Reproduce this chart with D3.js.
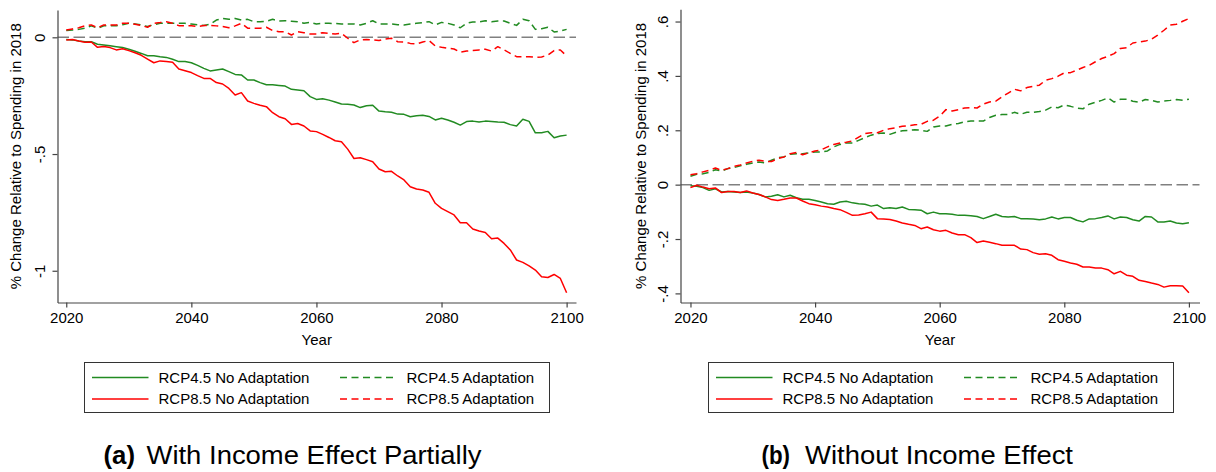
<!DOCTYPE html>
<html>
<head>
<meta charset="utf-8">
<script src="https://cdn.jsdelivr.net/npm/d3@7"></script>
<style>
  html, body { margin: 0; padding: 0; background: #fff; }
  svg { display: block; font-family: "Liberation Sans", Arial, Helvetica, sans-serif; }
</style>
</head>
<body>
<svg id="chart" width="1216" height="472"></svg>
<script>
// ---------- DATA ----------
const years = d3.range(2020, 2101);

const xTicks = [2020, 2040, 2060, 2080, 2100];
const yTicksA = [0, -0.5, -1];
const yTickLabelsA = ["0", "-.5", "-1"];
const yTicksB = [-0.4, -0.2, 0, 0.2, 0.4, 0.6];
const yTickLabelsB = ["-.4", "-.2", "0", ".2", ".4", ".6"];

const seriesNames = ["RCP4.5 No Adaptation", "RCP4.5 Adaptation", "RCP8.5 No Adaptation", "RCP8.5 Adaptation"];
const seriesColors = ["#228b22", "#228b22", "#ff0000", "#ff0000"];
const seriesDashed = [false, true, false, true];

// Panel (a): With Income Effect Partially
const a_rcp45_noadapt = [
  -0.009,-0.011,-0.016,-0.019,-0.019,-0.030,-0.033,-0.036,-0.040,-0.044,
  -0.051,-0.060,-0.069,-0.079,-0.079,-0.083,-0.086,-0.094,-0.104,-0.104,
  -0.109,-0.120,-0.133,-0.144,-0.140,-0.136,-0.147,-0.159,-0.161,-0.183,
  -0.183,-0.194,-0.203,-0.203,-0.206,-0.209,-0.223,-0.226,-0.229,-0.254,
  -0.266,-0.263,-0.269,-0.277,-0.286,-0.287,-0.290,-0.301,-0.293,-0.291,
  -0.316,-0.319,-0.321,-0.329,-0.330,-0.340,-0.336,-0.334,-0.339,-0.354,
  -0.347,-0.354,-0.364,-0.376,-0.361,-0.359,-0.363,-0.359,-0.361,-0.363,
  -0.364,-0.374,-0.380,-0.351,-0.360,-0.409,-0.409,-0.403,-0.430,-0.423,
  -0.419];
const a_rcp45_adapt = [
  0.029,0.031,0.034,0.039,0.049,0.039,0.049,0.049,0.049,0.054,
  0.060,0.057,0.053,0.046,0.054,0.060,0.060,0.060,0.060,0.060,
  0.057,0.054,0.051,0.056,0.074,0.081,0.077,0.081,0.074,0.077,
  0.067,0.067,0.069,0.077,0.070,0.071,0.069,0.067,0.060,0.064,
  0.057,0.060,0.060,0.059,0.057,0.057,0.057,0.053,0.060,0.071,
  0.057,0.057,0.057,0.054,0.053,0.057,0.060,0.063,0.067,0.053,
  0.064,0.060,0.053,0.041,0.060,0.066,0.066,0.071,0.067,0.070,
  0.070,0.060,0.051,0.077,0.071,0.034,0.037,0.043,0.023,0.027,
  0.034];
const a_rcp85_noadapt = [
  -0.011,-0.009,-0.016,-0.021,-0.020,-0.043,-0.039,-0.044,-0.054,-0.049,
  -0.057,-0.066,-0.077,-0.093,-0.109,-0.101,-0.104,-0.107,-0.136,-0.143,
  -0.151,-0.164,-0.176,-0.176,-0.194,-0.200,-0.219,-0.247,-0.237,-0.273,
  -0.283,-0.291,-0.297,-0.323,-0.340,-0.349,-0.373,-0.369,-0.380,-0.401,
  -0.404,-0.416,-0.429,-0.443,-0.447,-0.479,-0.519,-0.516,-0.524,-0.533,
  -0.564,-0.576,-0.574,-0.594,-0.611,-0.640,-0.650,-0.654,-0.664,-0.711,
  -0.733,-0.747,-0.761,-0.794,-0.794,-0.821,-0.830,-0.836,-0.863,-0.860,
  -0.883,-0.911,-0.954,-0.964,-0.979,-0.997,-1.026,-1.029,-1.016,-1.033,
  -1.094];
const a_rcp85_adapt = [
  0.031,0.036,0.041,0.049,0.053,0.041,0.053,0.053,0.053,0.060,
  0.060,0.056,0.051,0.043,0.060,0.063,0.067,0.060,0.050,0.050,
  0.050,0.046,0.051,0.051,0.049,0.046,0.041,0.049,0.060,0.039,
  0.039,0.039,0.043,0.029,0.024,0.024,0.010,0.024,0.020,0.014,
  0.014,0.020,0.017,0.014,0.017,-0.004,-0.023,-0.011,-0.009,-0.011,
  -0.014,-0.007,-0.004,-0.019,-0.020,-0.026,-0.029,-0.020,-0.014,-0.037,
  -0.043,-0.047,-0.050,-0.064,-0.059,-0.057,-0.054,-0.051,-0.059,-0.040,
  -0.054,-0.069,-0.083,-0.083,-0.083,-0.086,-0.084,-0.076,-0.057,-0.054,
  -0.080];

// Panel (b): Without Income Effect
const b_rcp45_noadapt = [
  -0.004,-0.006,-0.011,-0.021,-0.015,-0.027,-0.025,-0.027,-0.029,-0.027,
  -0.031,-0.036,-0.045,-0.043,-0.037,-0.045,-0.039,-0.048,-0.054,-0.054,
  -0.058,-0.064,-0.070,-0.072,-0.064,-0.061,-0.067,-0.070,-0.072,-0.079,
  -0.075,-0.088,-0.085,-0.088,-0.082,-0.091,-0.092,-0.094,-0.107,-0.101,
  -0.107,-0.107,-0.109,-0.113,-0.113,-0.114,-0.117,-0.125,-0.117,-0.109,
  -0.117,-0.119,-0.117,-0.125,-0.125,-0.126,-0.129,-0.126,-0.119,-0.126,
  -0.121,-0.121,-0.131,-0.137,-0.126,-0.125,-0.121,-0.115,-0.126,-0.119,
  -0.121,-0.129,-0.134,-0.117,-0.119,-0.137,-0.137,-0.134,-0.141,-0.144,
  -0.140];
const b_rcp45_adapt = [
  0.031,0.038,0.040,0.045,0.055,0.050,0.059,0.063,0.069,0.075,
  0.080,0.083,0.080,0.090,0.099,0.102,0.112,0.114,0.114,0.117,
  0.120,0.120,0.124,0.139,0.148,0.153,0.153,0.163,0.173,0.182,
  0.188,0.190,0.185,0.193,0.198,0.200,0.202,0.200,0.196,0.212,
  0.216,0.216,0.222,0.225,0.231,0.234,0.234,0.234,0.247,0.255,
  0.258,0.258,0.266,0.259,0.266,0.266,0.269,0.274,0.286,0.283,
  0.293,0.288,0.282,0.279,0.296,0.303,0.310,0.319,0.304,0.314,
  0.314,0.307,0.303,0.313,0.310,0.304,0.308,0.310,0.313,0.310,
  0.314];
const b_rcp85_noadapt = [
  -0.011,-0.002,-0.009,-0.015,-0.012,-0.029,-0.025,-0.025,-0.029,-0.023,
  -0.031,-0.036,-0.045,-0.055,-0.058,-0.054,-0.049,-0.049,-0.060,-0.070,
  -0.074,-0.079,-0.082,-0.088,-0.092,-0.102,-0.113,-0.112,-0.107,-0.101,
  -0.125,-0.126,-0.128,-0.134,-0.141,-0.146,-0.150,-0.162,-0.156,-0.166,
  -0.171,-0.168,-0.178,-0.184,-0.184,-0.195,-0.213,-0.207,-0.212,-0.217,
  -0.223,-0.223,-0.223,-0.237,-0.239,-0.250,-0.256,-0.254,-0.260,-0.276,
  -0.282,-0.288,-0.293,-0.303,-0.303,-0.307,-0.307,-0.313,-0.328,-0.319,
  -0.333,-0.337,-0.352,-0.356,-0.362,-0.367,-0.377,-0.372,-0.372,-0.373,
  -0.398];
const b_rcp85_adapt = [
  0.036,0.040,0.047,0.053,0.061,0.053,0.059,0.067,0.072,0.080,
  0.086,0.090,0.086,0.085,0.096,0.102,0.114,0.118,0.110,0.117,
  0.124,0.128,0.139,0.148,0.153,0.156,0.161,0.175,0.188,0.191,
  0.191,0.200,0.206,0.209,0.215,0.217,0.220,0.222,0.233,0.237,
  0.252,0.276,0.271,0.276,0.282,0.283,0.282,0.296,0.304,0.307,
  0.323,0.337,0.351,0.345,0.357,0.362,0.366,0.384,0.390,0.399,
  0.411,0.412,0.421,0.431,0.439,0.452,0.464,0.472,0.482,0.501,
  0.504,0.521,0.525,0.528,0.535,0.550,0.568,0.587,0.590,0.601,
  0.611];

const yAxisTitle = "% Change Relative to Spending in 2018";
const xAxisTitle = "Year";

// ---------- DRAW ----------
const svg = d3.select("#chart");
const FONT = 15;
const AXIS_COLOR = "#444";
const LINE_W = 1.5;
const DASH = "7,4.5";

const panels = [
  {
    xDomain: [2018.6, 2101.5], xRange: [57.5, 576],
    yDomain: [-1.136, 0.117], yRange: [302.5, 10],
    yTicks: yTicksA, yLabels: yTickLabelsA,
    series: [a_rcp45_noadapt, a_rcp45_adapt, a_rcp85_noadapt, a_rcp85_adapt],
    titleX: 20.5,
    legendX: 84.5,
    capBold: "(a)", capRest: "With Income Effect Partially",
    capX: 103.5, capBoldLen: 31.5, capRestX: 146.5, capRestLen: 335
  },
  {
    xDomain: [2018.4, 2101.7], xRange: [680.5, 1199.5],
    yDomain: [-0.4335, 0.645], yRange: [302.5, 9.3],
    yTicks: yTicksB, yLabels: yTickLabelsB,
    series: [b_rcp45_noadapt, b_rcp45_adapt, b_rcp85_noadapt, b_rcp85_adapt],
    titleX: 645.5,
    legendX: 708.5,
    capBold: "(b)", capRest: "Without Income Effect",
    capX: 761.5, capBoldLen: 28.5, capRestX: 805, capRestLen: 268
  }
];

panels.forEach(p => {
  const x = d3.scaleLinear().domain(p.xDomain).range(p.xRange);
  const y = d3.scaleLinear().domain(p.yDomain).range(p.yRange);
  const g = svg.append("g");

  // zero reference line
  g.append("line")
    .attr("x1", p.xRange[0]).attr("x2", p.xRange[1])
    .attr("y1", y(0)).attr("y2", y(0))
    .attr("stroke", "#808080").attr("stroke-width", 1.5)
    .attr("stroke-dasharray", "11.5,4.5");

  // series
  const line = d3.line().x((d, i) => x(years[i])).y(d => y(d));
  p.series.forEach((s, k) => {
    g.append("path")
      .datum(s)
      .attr("d", line)
      .attr("fill", "none")
      .attr("stroke", seriesColors[k])
      .attr("stroke-width", LINE_W)
      .attr("stroke-linejoin", "round")
      .attr("stroke-dasharray", seriesDashed[k] ? DASH : null);
  });

  // x axis
  const xAxis = g.append("g")
    .attr("transform", `translate(0,${p.yRange[0]})`)
    .call(d3.axisBottom(x).tickValues(xTicks).tickFormat(d3.format("d"))
      .tickSize(5).tickSizeOuter(0).tickPadding(4.5));
  // y axis
  const yAxis = g.append("g")
    .attr("transform", `translate(${p.xRange[0]},0)`)
    .call(d3.axisLeft(y).tickValues(p.yTicks).tickFormat((d, i) => p.yLabels[i])
      .tickSize(5).tickSizeOuter(0));
  [xAxis, yAxis].forEach(ax => {
    ax.select(".domain").attr("stroke", AXIS_COLOR).attr("stroke-width", 1.2);
    ax.selectAll(".tick line").attr("stroke", AXIS_COLOR).attr("stroke-width", 1.2);
    ax.selectAll("text").attr("fill", "#000").attr("font-size", FONT)
      .attr("font-family", '"Liberation Sans", Arial, Helvetica, sans-serif');
  });
  yAxis.selectAll(".tick text")
    .attr("transform", "rotate(-90)")
    .attr("x", 0).attr("y", -12.5).attr("dy", 0)
    .attr("text-anchor", "middle");

  // axis titles
  const midY = (p.yRange[0] + p.yRange[1]) / 2;
  g.append("text")
    .attr("transform", `translate(${p.titleX},${midY}) rotate(-90)`)
    .attr("text-anchor", "middle").attr("font-size", FONT)
    .text(yAxisTitle);
  g.append("text")
    .attr("x", (p.xRange[0] + p.xRange[1]) / 2).attr("y", 345)
    .attr("text-anchor", "middle").attr("font-size", FONT)
    .text(xAxisTitle);

  // legend
  const lg = g.append("g").attr("transform", `translate(${p.legendX},362.5)`);
  lg.append("rect").attr("width", 465).attr("height", 50)
    .attr("fill", "#fff").attr("stroke", "#333").attr("stroke-width", 1);
  [0, 1, 2, 3].forEach(k => {
    const col = k % 2, row = Math.floor(k / 2);
    const lx = col === 0 ? 7.5 : 255.5;
    const ly = row === 0 ? 15 : 36.5;
    lg.append("line")
      .attr("x1", lx).attr("x2", lx + 56.5).attr("y1", ly).attr("y2", ly)
      .attr("stroke", seriesColors[k]).attr("stroke-width", LINE_W)
      .attr("stroke-dasharray", seriesDashed[k] ? DASH : null);
    lg.append("text")
      .attr("x", lx + 66.5).attr("y", ly + 5.3)
      .attr("font-size", FONT)
      .text(seriesNames[k]);
  });

  // caption
  g.append("text")
    .attr("x", p.capX).attr("y", 464)
    .attr("font-size", 26).attr("font-weight", "bold")
    .attr("textLength", p.capBoldLen).attr("lengthAdjust", "spacingAndGlyphs")
    .text(p.capBold);
  g.append("text")
    .attr("x", p.capRestX).attr("y", 464)
    .attr("font-size", 26)
    .attr("textLength", p.capRestLen).attr("lengthAdjust", "spacingAndGlyphs")
    .text(p.capRest);
});
</script>
</body>
</html>
